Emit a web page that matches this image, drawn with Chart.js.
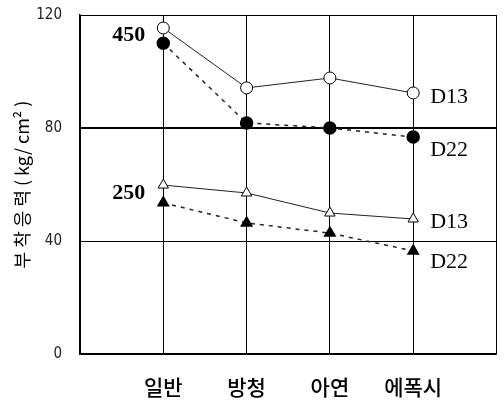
<!DOCTYPE html>
<html>
<head>
<meta charset="utf-8">
<script src="https://cdn.jsdelivr.net/npm/chart.js@4"></script>
<style>
  html, body { margin: 0; padding: 0; background: #fff; }
  #wrap { width: 504px; height: 409px; }
</style>
</head>
<body>
<div id="wrap"><canvas id="myChart" width="504" height="409"></canvas></div>
<script>
// categories on the x axis (placed at x = 1..4)
const categories = ['일반', '방청', '아연', '에폭시'];
const yTicks = [0, 40, 80, 120];

// bond stress (kg/cm2)
const d13_450 = [115.4, 94.2, 97.7, 92.4];
const d22_450 = [110.0, 81.8, 80.0, 76.8];
const d13_250 = [59.8, 57.0, 49.9, 47.8];
const d22_250 = [53.5, 46.4, 42.8, 36.5];

function pts(arr) {
  return arr.map((v, i) => ({x: i + 1, y: v}));
}

const serif = "'Liberation Serif', 'DejaVu Serif', serif";

// draws the group labels (450 / 250) and bar-size labels (D13 / D22)
const labelPlugin = {
  id: 'labels',
  afterDatasetsDraw(chart) {
    const ctx = chart.ctx;
    const xs = chart.scales.x, ys = chart.scales.y;
    ctx.save();
    ctx.fillStyle = '#000';
    ctx.textBaseline = 'middle';

    ctx.font = 'bold 22px ' + serif;
    ctx.textAlign = 'right';
    ctx.fillText('450', xs.getPixelForValue(1) - 18, ys.getPixelForValue((d13_450[0] + d22_450[0]) / 2));
    ctx.fillText('250', xs.getPixelForValue(1) - 18, ys.getPixelForValue((d13_250[0] + d22_250[0]) / 2) - 1);

    ctx.font = '22px ' + serif;
    ctx.textAlign = 'left';
    const last = categories.length - 1;
    const lx = xs.getPixelForValue(4) + 17;
    ctx.fillText('D13', lx, ys.getPixelForValue(d13_450[last]) + 4);
    ctx.fillText('D22', lx, ys.getPixelForValue(d22_450[last]) + 13);
    ctx.fillText('D13', lx, ys.getPixelForValue(d13_250[last]) + 3);
    ctx.fillText('D22', lx, ys.getPixelForValue(d22_250[last]) + 11);
    ctx.restore();
  }
};

const ctx = document.getElementById('myChart');
const chart = new Chart(ctx, {
  type: 'line',
  data: {
    datasets: [
      {data: pts(d13_450), borderColor: '#222', borderWidth: 1, pointStyle: 'circle',
       pointRadius: 6, pointBackgroundColor: '#fff', pointBorderColor: '#000', pointBorderWidth: 1},
      {data: pts(d22_450), borderColor: '#222', borderWidth: 1.5, borderDash: [4, 5], pointStyle: 'circle',
       pointRadius: 6, pointBackgroundColor: '#000', pointBorderColor: '#000'},
      {data: pts(d13_250), borderColor: '#222', borderWidth: 1, pointStyle: 'triangle',
       pointRadius: 6, pointBackgroundColor: '#fff', pointBorderColor: '#000', pointBorderWidth: 1},
      {data: pts(d22_250), borderColor: '#222', borderWidth: 1.5, borderDash: [4, 5], pointStyle: 'triangle',
       pointRadius: 6, pointBackgroundColor: '#000', pointBorderColor: '#000'}
    ]
  },
  options: {
    responsive: false,
    animation: false,
    layout: {padding: {top: 15, right: 1, left: 0, bottom: 0}},
    plugins: {legend: {display: false}, tooltip: {enabled: false}},
    scales: {
      x: {
        type: 'linear',
        min: 0,
        max: categories.length + 1,
        afterFit(s) { s.height = 55; s.paddingLeft = 0; s.paddingRight = 0; },
        border: {display: true, color: '#000', width: 1.5},
        grid: {color: '#000', lineWidth: 1, drawTicks: false},
        ticks: {
          stepSize: 1,
          padding: 20,
          color: '#000',
          font: {family: "'Noto Sans CJK KR'", size: 21, weight: '500'},
          callback: (v) => categories[v - 1] || ''
        }
      },
      y: {
        min: 0,
        max: 120,
        afterFit(s) { s.width = 80; s.paddingTop = 0; s.paddingBottom = 0; },
        afterBuildTicks(s) { s.ticks = yTicks.map(v => ({value: v})); },
        border: {display: true, color: '#000', width: 1.5},
        grid: {
          color: '#000',
          drawTicks: false,
          lineWidth: (c) => (c.tick && c.tick.value === 80) ? 2 : 1
        },
        ticks: {
          padding: 18,
          color: '#222',
          font: {family: "'DejaVu Sans Condensed', 'DejaVu Sans'", size: 15}
        },
        title: {
          display: true,
          text: '부 착 응 력 ( kg/ cm² )',
          color: '#000',
          padding: {top: 11, bottom: 0},
          font: {family: "'Noto Sans CJK KR'", size: 18}
        }
      }
    }
  },
  plugins: [labelPlugin]
});
</script>
</body>
</html>
